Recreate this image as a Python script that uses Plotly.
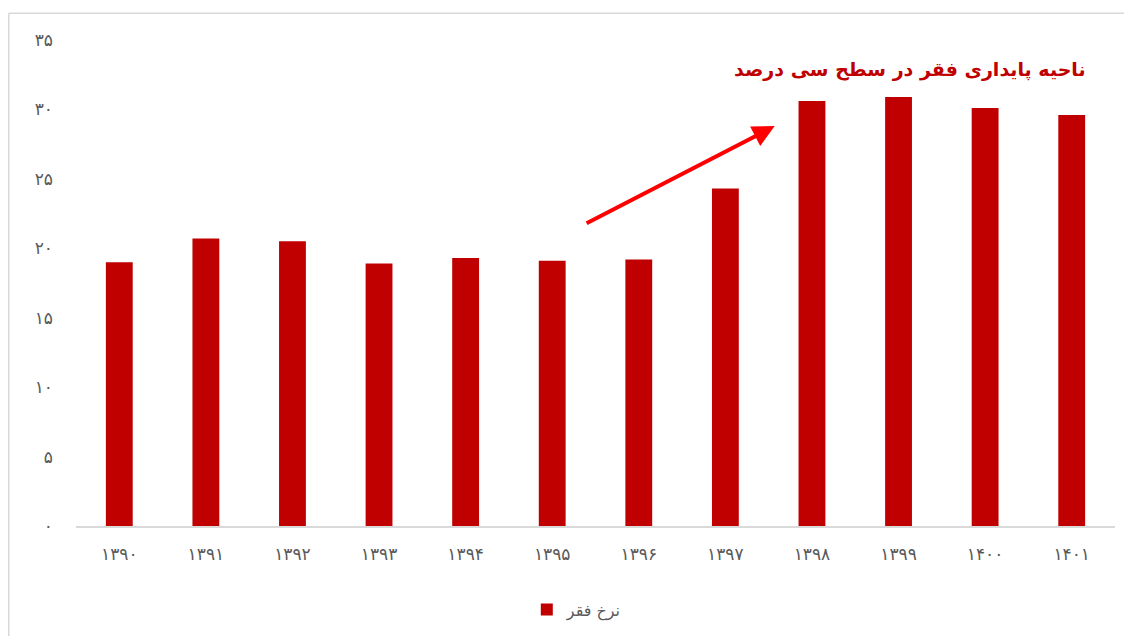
import plotly.graph_objects as go

years = ["۱۳۹۰", "۱۳۹۱", "۱۳۹۲", "۱۳۹۳", "۱۳۹۴", "۱۳۹۵",
         "۱۳۹۶", "۱۳۹۷", "۱۳۹۸", "۱۳۹۹", "۱۴۰۰", "۱۴۰۱"]
poverty_rate = [19.0, 20.7, 20.5, 18.9, 19.3, 19.1,
                19.2, 24.3, 30.6, 30.9, 30.1, 29.6]
y_ticks = [0, 5, 10, 15, 20, 25, 30, 35]
y_labels = ["۰", "۵", "۱۰", "۱۵", "۲۰", "۲۵", "۳۰", "۳۵"]
series_name = "نرخ فقر"
note = "ناحیه پایداری فقر در سطح سی درصد"

FONT = "DejaVu Sans"
GREY = "#595959"
RED = "#C00000"

fig = go.Figure()
fig.add_trace(go.Bar(
    x=years, y=poverty_rate, name=series_name,
    marker=dict(color=RED, line=dict(width=0)),
))

# arrow pointing at the plateau
fig.add_annotation(
    x=7.57, y=28.8, ax=5.38, ay=21.75,
    xref="x", yref="y", axref="x", ayref="y",
    text="", showarrow=True, arrowhead=2, arrowsize=1.1,
    arrowwidth=4, arrowcolor="#FF0000",
)
fig.add_annotation(
    x=9.13, y=32.9, xref="x", yref="y",
    text="<b>" + note + "</b>", showarrow=False,
    font=dict(family=FONT, size=19, color=RED),
)

# frame: only top and left edges are visible in the original
frame = dict(color="#D9D9D9", width=1.5)
fig.add_shape(type="line", xref="paper", yref="paper",
              x0=-0.0647, x1=1.02, y0=1.055, y1=1.055, line=frame)
fig.add_shape(type="line", xref="paper", yref="paper",
              x0=-0.0647, x1=-0.0647, y0=1.055, y1=-0.25, line=frame)

# page body adds 8px margin, so the figure is a bit smaller than the window
fig.update_layout(
    width=1116, height=628,
    margin=dict(l=68, r=9, t=32, b=108),
    plot_bgcolor="white", paper_bgcolor="white",
    bargap=0.69,
    font=dict(family=FONT, color=GREY, size=16),
    showlegend=True,
    legend=dict(
        orientation="h", x=0.482, xanchor="center", y=-0.172, yanchor="middle",
        font=dict(family=FONT, size=16, color=GREY),
    ),
)
fig.update_xaxes(
    showgrid=False, showline=True, linecolor="#D9D9D9", linewidth=2,
    ticks="", tickfont=dict(family=FONT, size=17, color=GREY),
    ticklabelstandoff=12,
    range=[-0.5, 11.5],
)
fig.update_yaxes(
    range=[0, 35], showgrid=False, showline=False, zeroline=False,
    tickvals=y_ticks, ticktext=y_labels, ticks="", ticklen=0,
    ticklabelstandoff=22,
    tickfont=dict(family=FONT, size=17, color=GREY),
)

fig.write_html("out.html")
